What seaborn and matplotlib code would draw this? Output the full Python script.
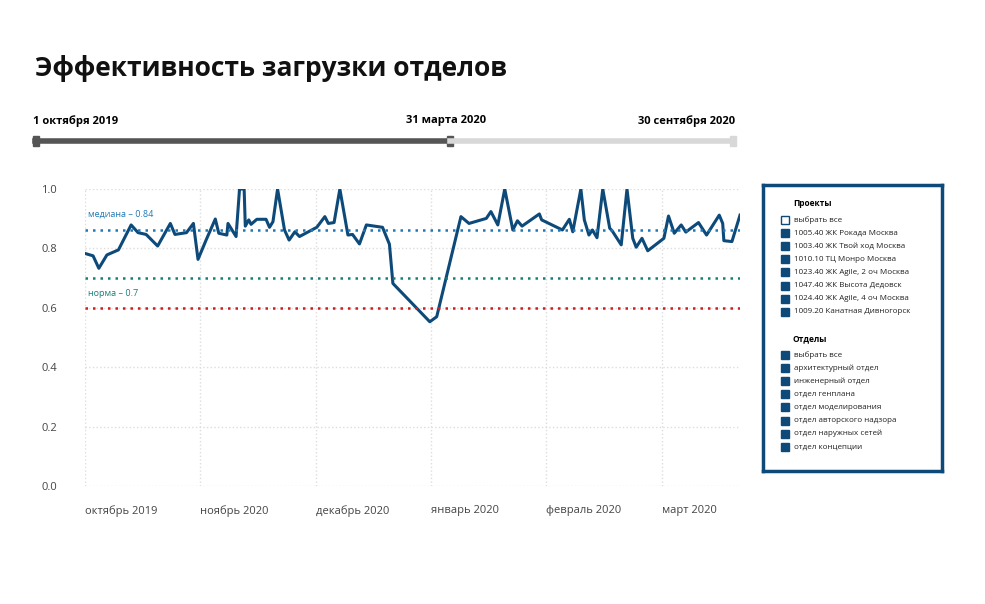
import numpy as np
import pandas as pd
import matplotlib
matplotlib.use('Agg')
import matplotlib.pyplot as plt
import seaborn as sns
from matplotlib.patches import Rectangle

plt.rcParams['font.family'] = ['Open Sans', 'Noto Sans', 'DejaVu Sans']

# position in months from 1 October, load value
months = [0.00, 0.07, 0.12, 0.19, 0.29, 0.40, 0.46, 0.53, 0.63, 0.74, 0.78, 0.88, 0.94, 0.98,
          1.05, 1.13, 1.16, 1.23, 1.24, 1.31, 1.34, 1.38, 1.39, 1.42, 1.44, 1.49, 1.57, 1.60,
          1.63, 1.67, 1.73, 1.77, 1.82, 1.86, 2.01, 2.08, 2.11, 2.16, 2.21, 2.28, 2.32, 2.38,
          2.44, 2.58, 2.64, 2.67, 2.99, 3.05, 3.26, 3.33, 3.48, 3.52, 3.58, 3.64, 3.71, 3.75,
          3.79, 3.94, 3.96, 4.14, 4.20, 4.23, 4.30, 4.33, 4.37, 4.40, 4.44, 4.49, 4.55, 4.57,
          4.65, 4.70, 4.75, 4.78, 4.83, 4.88, 5.02, 5.06, 5.11, 5.17, 5.21, 5.32, 5.39, 5.50,
          5.53, 5.54, 5.61, 5.68]
load = [0.783, 0.775, 0.733, 0.778, 0.795, 0.879, 0.853, 0.847, 0.808, 0.884, 0.847, 0.853, 0.884, 0.763,
        0.828, 0.899, 0.851, 0.845, 0.884, 0.840, 1.0, 1.0, 0.875, 0.896, 0.881, 0.898, 0.898, 0.871,
        0.890, 1.0, 0.862, 0.828, 0.856, 0.840, 0.871, 0.907, 0.884, 0.887, 1.0, 0.845, 0.847, 0.815,
        0.879, 0.871, 0.814, 0.682, 0.553, 0.570, 0.907, 0.884, 0.901, 0.924, 0.879, 1.0, 0.862, 0.893,
        0.875, 0.916, 0.896, 0.862, 0.898, 0.856, 1.0, 0.896, 0.845, 0.862, 0.836, 1.0, 0.868, 0.860,
        0.812, 1.0, 0.834, 0.804, 0.834, 0.792, 0.834, 0.909, 0.851, 0.879, 0.855, 0.887, 0.845, 0.912,
        0.884, 0.826, 0.823, 0.912]
month_labels = ['октябрь 2019', 'ноябрь 2020', 'декабрь 2020', 'январь 2020', 'февраль 2020', 'март 2020']
median_val, median_line = 0.84, 0.862
norm_val = 0.7
limit_val = 0.6
projects = ['1005.40 ЖК Рокада Москва', '1003.40 ЖК Твой ход Москва', '1010.10 ТЦ Монро Москва',
            '1023.40 ЖК Agile, 2 оч Москва', '1047.40 ЖК Высота Дедовск',
            '1024.40 ЖК Agile, 4 оч Москва', '1009.20 Канатная Дивногорск']
departments = ['выбрать все', 'архитектурный отдел', 'инженерный отдел', 'отдел генплана',
               'отдел моделирования', 'отдел авторского надзора', 'отдел наружных сетей',
               'отдел концепции']

W, H = 985, 604
BLUE = '#0d4a7a'
df = pd.DataFrame({'month': months, 'load': load})

fig = plt.figure(figsize=(W / 100, H / 100), dpi=100)
fig.patch.set_facecolor('white')

def fx(px): return px / W
def fy(py): return 1 - py / H

fig.text(fx(35), fy(68), 'Эффективность загрузки отделов', fontsize=19, fontweight='bold',
         va='center', color='#111111')

# timeline slider
fig.add_artist(plt.Line2D([fx(35), fx(450)], [fy(141)] * 2, color='#555555', lw=4))
fig.add_artist(plt.Line2D([fx(450), fx(733)], [fy(141)] * 2, color='#d8d8d8', lw=4))
for px in (36, 450, 733):
    fig.add_artist(Rectangle((fx(px) - 0.003, fy(146)), 0.006, 10 / H,
                             color='#555555' if px < 700 else '#d8d8d8'))
fig.text(fx(33), fy(121), '1 октября 2019', fontsize=8, fontweight='bold', va='center')
fig.text(fx(486), fy(121), '31 марта 2020', fontsize=8, fontweight='bold', va='center', ha='right')
fig.text(fx(735), fy(121), '30 сентября 2020', fontsize=8, fontweight='bold', va='center', ha='right')

ax = fig.add_axes([fx(85), fy(486), fx(740) - fx(85), (486 - 189) / H])
sns.lineplot(data=df, x='month', y='load', ax=ax, color=BLUE, lw=2.2)
ax.set_xlim(0, 5.68)
ax.set_ylim(0, 1.0)
ax.set_xticks(range(6))
ax.set_xticklabels(month_labels, fontsize=8, color='#444444', ha='left')
ax.set_yticks([0, 0.2, 0.4, 0.6, 0.8, 1.0])
ax.set_yticklabels(['0.0', '0.2', '0.4', '0.6', '0.8', '1.0'], fontsize=8, color='#444444')
ax.tick_params(length=0, pad=14)
ax.tick_params(axis='y', pad=20)
ax.set_xlabel('')
ax.set_ylabel('')
ax.grid(True, color='#dddddd', ls=':', lw=1)
for s in ax.spines.values():
    s.set_visible(False)
ax.axhline(median_line, color='#1f78b4', ls=(0, (1, 2)), lw=1.8)
ax.axhline(norm_val, color='#138078', ls=(0, (1, 2)), lw=1.8)
ax.axhline(limit_val, color='#d01c1c', ls=(0, (1, 2)), lw=1.8)
ax.text(0.03, median_line + 0.045, f'медиана – {median_val}', fontsize=6.5, color='#1f78b4')
ax.text(0.03, norm_val - 0.06, f'норма – {norm_val}', fontsize=6.5, color='#138078')

# filter panel
lg = fig.add_axes([fx(763), fy(471), fx(942) - fx(763), (471 - 185) / H])
lg.set_xlim(763, 942)
lg.set_ylim(471, 185)
lg.set_xticks([])
lg.set_yticks([])
for s in lg.spines.values():
    s.set_color(BLUE)
    s.set_linewidth(2.5)
lg.text(793, 203, 'Проекты', fontsize=6, fontweight='bold', va='center')
items = [('выбрать все', False)] + [(p, True) for p in projects]
for i, (name, filled) in enumerate(items):
    y = 220 + i * 13.1
    lg.add_patch(Rectangle((781, y - 4), 8, 8, facecolor=BLUE if filled else 'white',
                           edgecolor=BLUE, lw=1))
    lg.text(794, y, name, fontsize=5.8, va='center', color='#222222')
lg.text(793, 339, 'Отделы', fontsize=6, fontweight='bold', va='center')
for i, name in enumerate(departments):
    y = 355 + i * 13.1
    lg.add_patch(Rectangle((781, y - 4), 8, 8, facecolor=BLUE, edgecolor=BLUE, lw=1))
    lg.text(794, y, name, fontsize=5.8, va='center', color='#222222')

fig.savefig('out.png', dpi=100)
